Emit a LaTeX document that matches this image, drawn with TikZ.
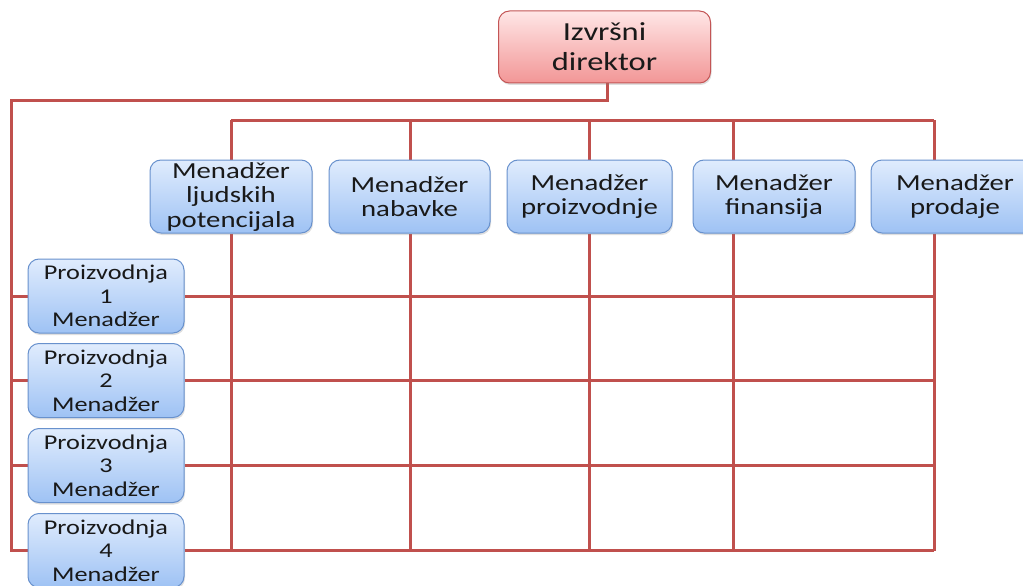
\documentclass[tikz,border=0pt]{standalone}
\usepackage{fontspec}
\setmainfont{Carlito}[FakeStretch=1.25]
\usetikzlibrary{shadows,backgrounds}
\definecolor{linkred}{RGB}{192,80,77}
\definecolor{bluetop}{RGB}{224,236,253}
\definecolor{bluebot}{RGB}{158,194,244}
\definecolor{blueedge}{RGB}{104,145,205}
\definecolor{pinktop}{RGB}{255,230,230}
\definecolor{pinkbot}{RGB}{242,150,150}
\definecolor{pinkedge}{RGB}{195,85,85}
\tikzset{
  box/.style={draw=blueedge, line width=1pt, rounded corners=11pt,
    top color=bluetop, bottom color=bluebot, align=center,
    text=black!90, inner sep=0pt,
    font=\fontsize{21}{23.5}\selectfont,
    drop shadow={opacity=0.25, shadow xshift=1pt, shadow yshift=-2pt}},
  mgrbox/.style={box, font=\fontsize{23}{24.5}\selectfont},
  headbox/.style={box, draw=pinkedge, top color=pinktop, bottom color=pinkbot,
    font=\fontsize{26}{30}\selectfont},
  conn/.style={draw=linkred, line width=3pt}
}
\begin{document}
\begin{tikzpicture}[x=1pt, y=-1pt]
\useasboundingbox (0,0) rectangle (1023,586);

% executive
\node[headbox, minimum width=212pt, minimum height=72pt] (dir) at (604.5,47) {Izvršni\\direktor};

% functional managers
\node[mgrbox, minimum width=162pt, minimum height=73pt] (m1) at (231,196.5) {Menadžer\\ljudskih\\potencijala};
\node[mgrbox, minimum width=161pt, minimum height=73pt] (m2) at (409.5,196.5) {Menadžer\\nabavke};
\node[mgrbox, minimum width=165pt, minimum height=73pt] (m3) at (589.5,196.5) {Menadžer\\proizvodnje};
\node[mgrbox, minimum width=162pt, minimum height=73pt] (m4) at (774,196.5) {Menadžer\\finansija};
\node[mgrbox, minimum width=168pt, minimum height=73pt] (m5) at (955,196.5) {Menadžer\\prodaje};

% production managers
\node[box, minimum width=156pt, minimum height=74pt] (p1) at (106,296) {Proizvodnja\\1\\Menadžer};
\node[box, minimum width=156pt, minimum height=74pt] (p2) at (106,380.5) {Proizvodnja\\2\\Menadžer};
\node[box, minimum width=156pt, minimum height=74pt] (p3) at (106,465.5) {Proizvodnja\\3\\Menadžer};
\node[box, minimum width=156pt, minimum height=74pt] (p4) at (106,550.5) {Proizvodnja\\4\\Menadžer};

% grid anchors
\coordinate (lt) at (11,100);
\coordinate (c1) at (231,120);
\coordinate (c2) at (410,120);
\coordinate (c3) at (589,120);
\coordinate (c4) at (733,120);
\coordinate (c5) at (934,120);
\coordinate (bot) at (0,550.5);

\begin{pgfonlayer}{background}
  % executive to the production column
  \draw[conn] ([xshift=2.5pt]dir.south) |- (lt) -- (lt |- p4.west) -- (p4.west);
  % top bar
  \draw[conn] (c1) -- (c5);
  % columns
  \foreach \i in {1,...,5} {
    \draw[conn] (c\i) -- (c\i |- m\i.north);
    \draw[conn] (c\i |- m\i.south) -- (c\i |- bot);
  }
  % rows
  \foreach \i in {1,2,3} {
    \draw[conn] (lt |- p\i.west) -- (p\i.west);
  }
  \foreach \i in {1,...,4} {
    \draw[conn] (p\i.east) -- (p\i.east -| c5);
  }
\end{pgfonlayer}
\end{tikzpicture}
\end{document}
